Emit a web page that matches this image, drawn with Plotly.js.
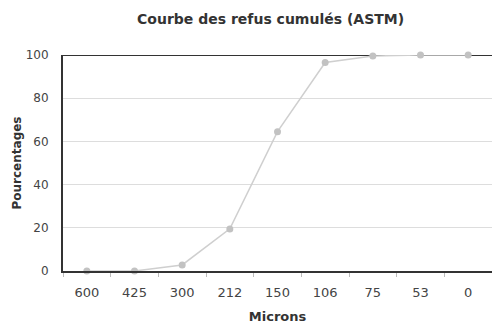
<!DOCTYPE html>
<html>
<head>
<meta charset="utf-8">
<script src="https://cdn.plot.ly/plotly-3.0.1.min.js"></script>
<style>html,body{margin:0;padding:0;background:#fff;}#chart{width:492px;height:325px;}</style>
</head>
<body>
<div id="chart"></div>
<script>
const categories = ["600", "425", "300", "212", "150", "106", "75", "53", "0"];
const refusCumules = [0, 0, 2.8, 19.5, 64.5, 96.5, 99.5, 100, 100];
const yTicks = [0, 20, 40, 60, 80, 100];

const trace = {
  x: categories,
  y: refusCumules,
  type: "scatter",
  mode: "lines+markers",
  line: {color: "#cfcfcf", width: 1.5},
  marker: {color: "#c2c2c2", size: 7, symbol: "circle"},
  cliponaxis: false,
  hoverinfo: "x+y"
};

const layout = {
  width: 492,
  height: 325,
  margin: {l: 63, r: 0, t: 55, b: 54},
  paper_bgcolor: "#ffffff",
  plot_bgcolor: "#ffffff",
  showlegend: false,
  font: {family: "DejaVu Sans, Arial, sans-serif", color: "#333333", size: 12},
  title: {
    text: "<b>Courbe des refus cumulés (ASTM)</b>",
    font: {size: 14, color: "#333333"},
    x: 0.55, xanchor: "center",
    y: 0.94, yanchor: "middle"
  },
  xaxis: {
    type: "category",
    range: [-0.5, 8.5],
    showline: true,
    linecolor: "#333333",
    linewidth: 2,
    showgrid: false,
    zeroline: false,
    ticks: "outside",
    tickson: "boundaries",
    ticklen: 4,
    tickcolor: "#bbbbbb",
    ticklabelstandoff: 8,
    tickfont: {size: 13, color: "#444444"},
    title: {text: "<b>Microns</b>", font: {size: 13, color: "#333333"}, standoff: 13}
  },
  yaxis: {
    range: [0, 100],
    tickvals: yTicks,
    ticktext: yTicks.map(String),
    showline: true,
    linecolor: "#333333",
    linewidth: 2,
    showgrid: true,
    gridcolor: "#dddddd",
    gridwidth: 1,
    zeroline: false,
    ticks: "",
    ticklabelstandoff: 10,
    tickfont: {size: 12, color: "#444444"},
    title: {text: "<b>Pourcentages</b>", font: {size: 12, color: "#333333"}, standoff: 1}
  },
  shapes: [{
    type: "line", xref: "paper", x0: 0, x1: 1, yref: "y", y0: 100, y1: 100,
    line: {color: "#333333", width: 2}, layer: "below"
  }]
};

Plotly.newPlot("chart", [trace], layout, {displayModeBar: false, staticPlot: true});
</script>
</body>
</html>
